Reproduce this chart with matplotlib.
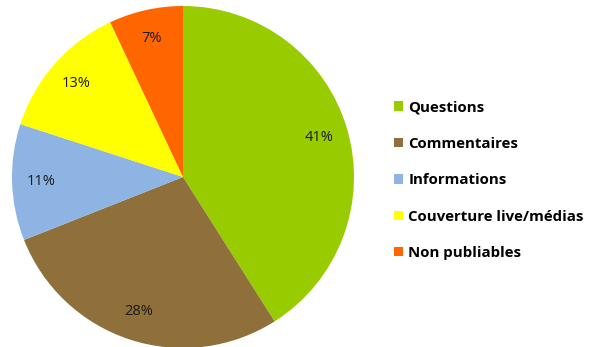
import matplotlib
matplotlib.use("Agg")
import matplotlib.pyplot as plt

categories = ["Questions", "Commentaires", "Informations", "Couverture live/médias", "Non publiables"]
shares = [41, 28, 11, 13, 7]
colors = ["#99CC00", "#8F6F3A", "#8DB4E2", "#FFFF00", "#FF6600"]

plt.rcParams["font.family"] = ["Open Sans", "DejaVu Sans"]

fig = plt.figure(figsize=(5.94, 3.47), dpi=100)
ax = fig.add_axes([12 / 594, -1 / 347, 342 / 594, 342 / 347])

wedges, texts, autotexts = ax.pie(
    shares,
    colors=colors,
    startangle=90,
    counterclock=False,
    autopct=lambda p: f"{p:.0f}%",
    pctdistance=0.83,
    wedgeprops=dict(linewidth=0),
    textprops=dict(fontsize=10.5, color="#1a1a1a"),
)
ax.set_xlim(-1, 1)
ax.set_ylim(-1, 1)
ax.set_aspect("equal")

fig.legend(
    wedges, categories,
    loc="upper left",
    bbox_to_anchor=(380 / 594, 1 - 87 / 347),
    frameon=False,
    handlelength=0.6,
    handleheight=0.6,
    handletextpad=0.4,
    labelspacing=1.49,
    prop=dict(size=10.8, weight="bold"),
)

fig.savefig("out.png", dpi=100)
